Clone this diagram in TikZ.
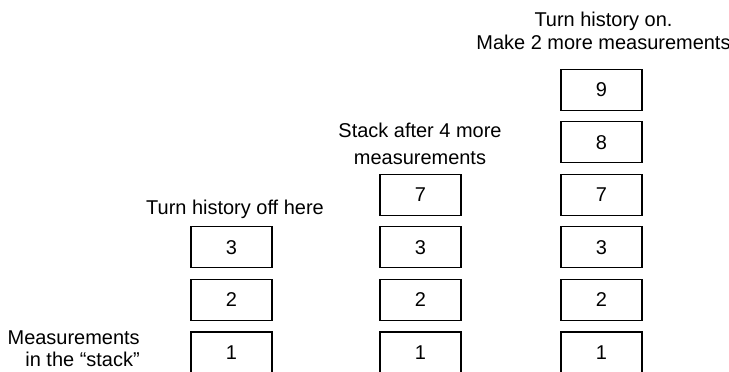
\documentclass[tikz,border=0pt]{standalone}
\usepackage{fontspec}
\setmainfont{Liberation Sans}
\usepackage{tikz}
\usetikzlibrary{positioning}

\tikzset{
  cell/.style={draw, line width=0.8pt, minimum width=2.025cm,
               minimum height=1.025cm, inner sep=0pt,
               font=\fontsize{14.2}{15.6}\selectfont},
  caption/.style={inner sep=0pt, font=\fontsize{14.2}{15.6}\selectfont}
}

\begin{document}
\begin{tikzpicture}[x=0.025cm, y=-0.025cm, node distance=0.26cm]
  \useasboundingbox (0,0) rectangle (729,372);
  % Left stack: history turned off after 3
  \node[cell] (a1) at (231.5,352.5) {1};
  \node[cell, above=of a1] (a2) {2};
  \node[cell, above=of a2] (a3) {3};
  % Middle stack: 4 more measurements, only 7 is kept
  \node[cell] (b1) at (420.5,352.5) {1};
  \node[cell, above=of b1] (b2) {2};
  \node[cell, above=of b2] (b3) {3};
  \node[cell, above=of b3] (b7) {7};
  % Right stack: history on again
  \node[cell] (c1) at (601.5,352.5) {1};
  \node[cell, above=of c1] (c2) {2};
  \node[cell, above=of c2] (c3) {3};
  \node[cell, above=of c3] (c7) {7};
  \node[cell, above=of c7] (c8) {8};
  \node[cell, above=of c8] (c9) {9};
  % Captions (base = last line)
  \node[caption, align=right, anchor=base east] (stacklbl)
    at (140,366.7) {Measurements\\in the ``stack''};
  \node[caption, anchor=base] (offlbl) at (235,215) {Turn history off here};
  \node[caption, align=center, anchor=base] (morelbl)
    at (420,165) {Stack after 4 more\\[4pt]measurements};
  \node[caption, align=center, anchor=base] (onlbl)
    at (603.5,49.3) {Turn history on.\\[0.5pt]Make 2 more measurements};
\end{tikzpicture}
\end{document}
